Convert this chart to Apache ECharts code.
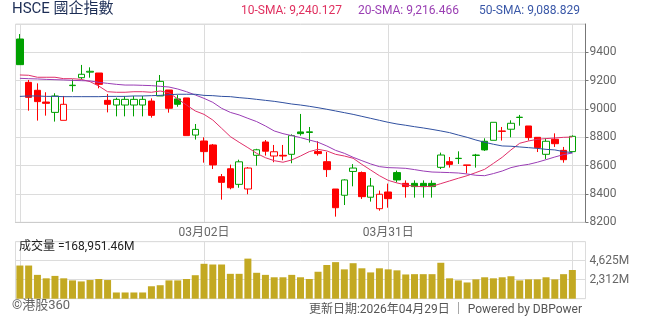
<!DOCTYPE html>
<html><head><meta charset="utf-8">
<script src="https://cdn.jsdelivr.net/npm/echarts@6/dist/echarts.min.js"></script>
<style>html,body{margin:0;padding:0;background:#fff}#c{width:654px;height:325px}</style>
</head><body><div id="c"></div>
<script>
// ---------- data ----------
const dates = ['01月30日','02月02日','02月03日','02月04日','02月05日','02月06日','02月09日','02月10日','02月11日','02月12日',
 '02月13日','02月16日','02月17日','02月18日','02月19日','02月20日','02月23日','02月24日','02月25日','02月26日',
 '02月27日','03月02日','03月03日','03月04日','03月05日','03月06日','03月09日','03月10日','03月11日','03月12日',
 '03月13日','03月16日','03月17日','03月18日','03月19日','03月20日','03月23日','03月24日','03月25日','03月26日',
 '03月27日','03月30日','03月31日','04月01日','04月02日','04月03日','04月06日','04月07日','04月08日','04月09日',
 '04月10日','04月13日','04月14日','04月15日','04月16日','04月17日','04月20日','04月21日','04月22日','04月23日',
 '04月24日','04月27日','04月28日','04月29日',''];
const xTickLabels = ['03月02日','03月31日'];
const prevCloseBeforeStart = 9280;
const opens  = [9494,9188,9132,9049,8976,8920,9165,9221,9260,9254, 9061,9028,9028,9028,9028,9056,9092,9134,9071,9078,
 8816,8774,8746,8522,8578,8468,8435,8673,8767,8668, 8673,8680,8838,8834,8699,8628,8435,8391,8559,8551,
 8377,8296,8414,8551,8475,8475,8475,8475,8588,8628, 8650,8605,8672,8772,8779,8845,8857,8940,8880,8800,
 8680,8786,8708,8699];
const closes = [9313,9082,9052,9040,9092,9033,9168,9245,9266,9174, 9033,9068,9068,9068,9068,8955,9195,9005,9033,8812,
 8856,8699,8605,8482,8444,8627,8583,8712,8702,8698, 8668,8812,8826,8839,8685,8572,8303,8499,8583,8381,
 8456,8398,8367,8499,8452,8452,8452,8452,8675,8609, 8652,8602,8675,8711,8906,8842,8899,8942,8798,8727,
 8772,8755,8642,8807];
const lows   = [9313,8988,8918,8953,8911,8920,9122,9209,9221,9146, 8976,8948,8948,8948,8948,8939,9092,8974,9016,8812,
 8784,8621,8576,8360,8433,8444,8398,8600,8671,8624, 8638,8617,8812,8763,8671,8520,8240,8322,8454,8365,
 8346,8282,8303,8482,8374,8374,8374,8374,8576,8586, 8612,8546,8586,8704,8779,8777,8800,8882,8777,8696,
 8647,8732,8621,8699];
const highs  = [9529,9205,9181,9118,9111,9092,9209,9311,9294,9254, 9106,9080,9092,9092,9092,9075,9240,9134,9099,9078,
 8894,8800,8753,8541,8607,8642,8590,8719,8781,8746, 8746,8821,8965,8873,8772,8697,8435,8504,8611,8559,
 8513,8424,8473,8565,8496,8496,8496,8496,8692,8661, 8701,8605,8683,8793,8906,8873,8920,8958,8880,8800,
 8793,8828,8732,8814];
const volumes = [4037,4037,2901,2481,2775,2481,2228,2102,2271,2397, 2271,757,757,757,757,1514,1640,2228,2228,2397,
 2859,4247,4163,4163,3028,3028,4878,3154,2901,2607, 2607,2901,2607,2397,3280,4100,4450,3570,4320,3700,
 3200,3700,3570,3450,2950,2986,2986,2986,4373,2481, 2228,1976,2355,2607,2481,2607,2733,2228,2355,2355,
 2607,2355,2986,3490];
const sma10 = [9240.127,9238,9224,9224,9224,9214,9214,9209,9193,9162, 9122,9118,9118,9122,9122,9118,9127,9115,9071,9028,
 8986,8962,8922,8864,8805,8765,8727,8687,8656,8635, 8624,8640,8668,8699,8715,8704,8680,8668,8652,8609,
 8569,8529,8496,8478,8464,8454,8452,8454,8473,8492, 8511,8529,8551,8574,8616,8659,8711,8758,8774,8786,
 8791,8795,8800,8802];
const sma20 = [9216.466,9214,9212,9209,9207,9205,9202,9200,9198,9188, 9181,9174,9169,9169,9167,9165,9160,9155,9141,9122,
 9099,9075,9047,9005,8976,8958,8934,8911,8880,8845, 8826,8812,8798,8781,8765,8739,8708,8687,8659,8635,
 8612,8593,8586,8584,8581,8572,8562,8555,8553,8551, 8548,8541,8532,8529,8544,8562,8586,8600,8609,8624,
 8642,8661,8678,8689];
const sma50 = [9088.829,9092,9092,9089,9089,9087,9087,9087,9087,9087, 9089,9089,9089,9092,9092,9094,9096,9101,9104,9104,
 9104,9096,9094,9089,9087,9080,9075,9068,9061,9054, 9045,9035,9028,9019,9009,8998,8986,8974,8962,8948,
 8934,8920,8906,8894,8885,8875,8866,8856,8845,8833, 8816,8800,8781,8765,8751,8739,8737,8732,8727,8722,
 8715,8711,8699,8692];
const priceMin = 8200, priceMax = 9600, priceStep = 200;
const volMax = 6937.5, volStep = 2312.5;
const titleText = 'HSCE 國企指數';
const volumeText = '成交量 =168,951.46M';
const footLeft = '©港股360';
const footRight = '更新日期:2026年04月29日 ｜ Powered by DBPower';

// ---------- chart ----------
const FONT = 'Roboto, "Noto Sans CJK TC", sans-serif';
const UP = '#00a000', DOWN = '#ff0000';
const GRIDC = '#dcdcdc';
const candleData = opens.map((o, i) => {
  const c = closes[i];
  const prev = i === 0 ? prevCloseBeforeStart : closes[i - 1];
  const col = c >= prev ? UP : DOWN;
  const fill = c > o ? '#ffffff' : col;
  return {value: [o, c, lows[i], highs[i]],
    itemStyle: {color: fill, color0: fill, borderColor: col, borderColor0: col, borderColorDoji: col, borderWidth: 1}};
});
const fmt3 = v => v.toLocaleString('en-US', {minimumFractionDigits: 3, maximumFractionDigits: 3});
const splitEvery = (i) => i % 21 === 0 && i < opens.length;
const ts = (size, color) => ({fontSize: size, fontWeight: 'normal', color: color, fontFamily: FONT});

const chart = echarts.init(document.getElementById('c'), null, {renderer: 'canvas', width: 654, height: 325});
chart.setOption({
  animation: false,
  textStyle: {fontFamily: FONT},
  title: [
    {text: titleText, left: 12, top: 2, padding: 0, textStyle: ts(15, '#1c2d55')},
    {text: '10-SMA: ' + fmt3(sma10[0]), left: 241, top: 5, padding: 0, textStyle: ts(12, '#e0305f')},
    {text: '20-SMA: ' + fmt3(sma20[0]), left: 358, top: 5, padding: 0, textStyle: ts(12, '#9a3fb3')},
    {text: '50-SMA: ' + fmt3(sma50[0]), left: 479, top: 5, padding: 0, textStyle: ts(12, '#3a58a8')},
    {text: volumeText, left: 19, top: 241, padding: 0, textStyle: ts(12, '#222')},
    {text: footLeft, left: 12, top: 299, padding: 0, textStyle: ts(13, '#666')},
    {text: footRight, right: 72, top: 304, padding: 0, textStyle: ts(12, '#555')}
  ],
  grid: [
    {left: 15.5, right: 68.5, top: 24, height: 198.3, show: true, borderColor: GRIDC, borderWidth: 1},
    {left: 15.5, right: 68.5, top: 241.7, height: 57, show: true, borderColor: GRIDC, borderWidth: 1}
  ],
  xAxis: [
    {type: 'category', gridIndex: 0, data: dates, boundaryGap: true,
     axisLine: {show: true, lineStyle: {color: '#cccccc'}}, axisTick: {show: false},
     axisLabel: {interval: (i, v) => xTickLabels.includes(v), color: '#666', fontSize: 12, margin: 5, fontFamily: FONT},
     splitLine: {show: true, alignWithLabel: true, interval: splitEvery, lineStyle: {color: GRIDC}}},
    {type: 'category', gridIndex: 1, data: dates, boundaryGap: true,
     axisLine: {show: false}, axisTick: {show: false}, axisLabel: {show: false},
     splitLine: {show: true, alignWithLabel: true, interval: splitEvery, lineStyle: {color: GRIDC}}}
  ],
  yAxis: [
    {type: 'value', gridIndex: 0, position: 'right', min: priceMin, max: priceMax, interval: priceStep,
     axisLine: {show: true, lineStyle: {color: '#777'}}, axisTick: {show: true, length: 3, lineStyle: {color: '#777'}},
     axisLabel: {color: '#666', fontSize: 12, margin: 4, showMaxLabel: false, fontFamily: FONT,
       formatter: v => String(v)},
     splitLine: {show: true, lineStyle: {color: GRIDC}}},
    {type: 'value', gridIndex: 1, position: 'right', min: 0, max: volMax, interval: volStep,
     axisLine: {show: false}, axisTick: {show: false},
     axisLabel: {color: '#666', fontSize: 12, margin: 4, showMaxLabel: false, showMinLabel: false, fontFamily: FONT,
       formatter: v => Math.floor(v).toLocaleString('en-US') + 'M'},
     splitLine: {show: true, lineStyle: {color: GRIDC}}}
  ],
  series: [
    {type: 'candlestick', xAxisIndex: 0, yAxisIndex: 0, data: candleData, barWidth: 7},
    {type: 'line', xAxisIndex: 0, yAxisIndex: 0, data: sma10, symbol: 'none', lineStyle: {color: '#e0306a', width: 1}},
    {type: 'line', xAxisIndex: 0, yAxisIndex: 0, data: sma20, symbol: 'none', lineStyle: {color: '#9a3db5', width: 1}},
    {type: 'line', xAxisIndex: 0, yAxisIndex: 0, data: sma50, symbol: 'none', lineStyle: {color: '#3050a0', width: 1}},
    {type: 'bar', xAxisIndex: 1, yAxisIndex: 1, data: volumes, barWidth: 7, itemStyle: {color: '#c3a922'}}
  ]
});
</script>
</body></html>
